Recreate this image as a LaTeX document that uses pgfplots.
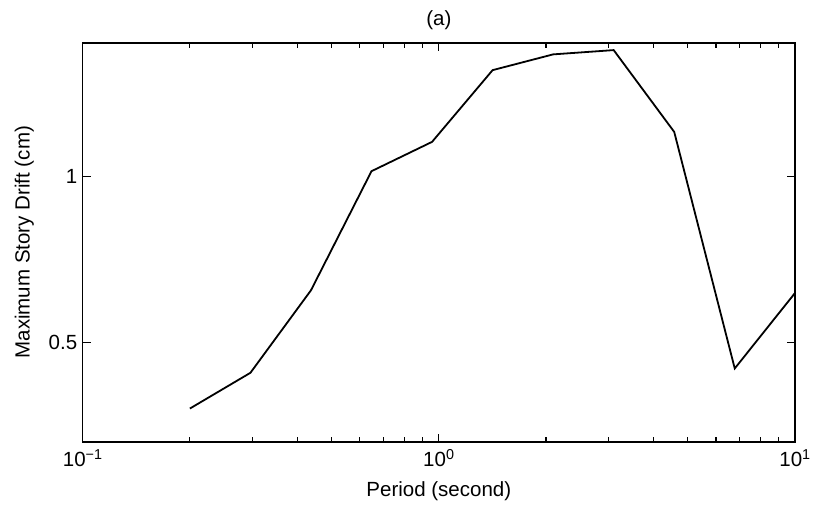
\documentclass[border=0pt]{standalone}
\usepackage{pgfplots}
\pgfplotsset{compat=1.18}
\usepackage{fontspec}
\setmainfont{Liberation Sans}

\begin{document}
\begin{tikzpicture}
\begin{axis}[
  at={(0pt,0pt)}, anchor=south west,
  scale only axis,
  width=712.3pt, height=399pt,
  xmode=log, ymode=log,
  xmin=0.1, xmax=10,
  ymin=0.33, ymax=1.746,
  xtick={0.1,1,10},
  xticklabels={10\textsuperscript{−1},10\textsuperscript{0},10\textsuperscript{1}},
  ytick={0.5,1},
  yticklabels={0.5,1},
  xminorticks=true,
  yminorticks=false,
  minor xtick={0.2,0.3,0.4,0.5,0.6,0.7,0.8,0.9,2,3,4,5,6,7,8,9},
  tick align=inside,
  tick pos=both,
  major tick length=8pt,
  minor tick length=5pt,
  every tick/.append style={black, line width=1.2pt},
  axis line style={line width=1.6pt},
  font=\fontsize{20.5}{24}\selectfont,
  tick label style={font=\fontsize{20.5}{24}\selectfont},
  xticklabel style={yshift=-4pt},
  yticklabel style={xshift=-2pt},
  title={(a)},
  title style={yshift=3pt},
  xlabel={Period (second)},
  ylabel={Maximum Story Drift (cm)},
  xlabel style={yshift=-8pt},
  ylabel style={yshift=8pt},
]
\addplot[black, line width=1.8pt] coordinates {
  (0.2000, 0.379)
  (0.2958, 0.440)
  (0.4375, 0.621)
  (0.6471, 1.021)
  (0.9571, 1.154)
  (1.4156, 1.557)
  (2.0938, 1.663)
  (3.0968, 1.693)
  (4.5803, 1.203)
  (6.7744, 0.448)
  (10.000, 0.614)
};
\end{axis}
\pgfresetboundingbox
\path (-82.7pt,-67.3pt) rectangle (732.3pt,441.7pt);
\end{tikzpicture}
\end{document}
